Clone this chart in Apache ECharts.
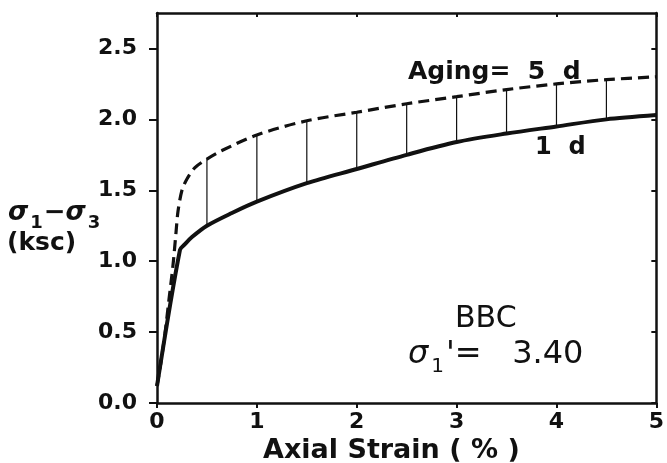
<!DOCTYPE html>
<html>
<head>
<meta charset="utf-8">
<script src="https://cdn.jsdelivr.net/npm/echarts@6/dist/echarts.min.js"></script>
<style>
  html, body { margin: 0; padding: 0; background: #fff; }
  #chart { width: 667px; height: 463px; }
</style>
</head>
<body>
<div id="chart"></div>
<script>
// 1 day curve (solid)
const oneDayStrain = [0, 0.23, 0.28, 0.35, 0.5, 0.75, 1, 1.5, 2, 2.5, 3, 3.5, 4, 4.5, 5];
const oneDayStress = [0.12, 1.08, 1.12, 1.17, 1.25, 1.34, 1.42, 1.55, 1.65, 1.75, 1.84, 1.90, 1.95, 2.00, 2.03];

// 5 day curve (dashed)
const fiveDayStrain = [0, 0.04, 0.08, 0.12, 0.16, 0.19, 0.21, 0.25, 0.3, 0.38, 0.5, 0.65, 1, 1.5, 2, 2.5, 3, 3.5, 4, 4.5, 5];
const fiveDayStress = [0.12, 0.29, 0.49, 0.73, 0.97, 1.2, 1.35, 1.5, 1.58, 1.66, 1.72, 1.78, 1.89, 1.99, 2.05, 2.11, 2.16, 2.21, 2.25, 2.28, 2.30];

// vertical connectors between the two curves
const connectorStrain = [0.5, 1, 1.5, 2, 2.5, 3, 3.5, 4, 4.5];
const connectorLow = [1.25, 1.42, 1.55, 1.65, 1.75, 1.84, 1.90, 1.95, 2.00];
const connectorHigh = [1.72, 1.89, 1.99, 2.05, 2.11, 2.16, 2.21, 2.25, 2.28];

const xTicks = [0, 1, 2, 3, 4, 5];
const yTicks = [0, 0.5, 1, 1.5, 2, 2.5];

const FONT = 'DejaVu Sans';
const INK = '#111';

const chart = echarts.init(document.getElementById('chart'), null, { renderer: 'canvas' });

const zip = (xs, ys) => xs.map((x, i) => [x, ys[i]]);

const frameAxis = (extra) => Object.assign({
  type: 'value',
  axisLine: { show: true, onZero: false, lineStyle: { color: INK, width: 2.5 } },
  axisLabel: { show: false },
  splitLine: { show: false }
}, extra);

const option = {
  backgroundColor: '#fff',
  animation: false,
  grid: { left: 157, right: 9, top: 13, bottom: 60 },
  xAxis: [
    frameAxis({
      min: 0, max: 5, position: 'bottom',
      axisTick: { show: true, length: 5, customValues: xTicks, lineStyle: { color: INK, width: 2 } },
      axisLabel: { show: true, customValues: xTicks, color: INK, fontFamily: FONT, fontWeight: 'bold', fontSize: 22, margin: 8 }
    }),
    frameAxis({
      min: 0, max: 5, position: 'top',
      axisTick: { show: true, inside: true, length: 4, customValues: xTicks, lineStyle: { color: INK, width: 2 } }
    })
  ],
  yAxis: [
    frameAxis({
      min: 0, max: 2.75, position: 'left',
      axisTick: { show: true, length: 8, customValues: yTicks, lineStyle: { color: INK, width: 2 } },
      axisLabel: {
        show: true, customValues: yTicks, color: INK, fontFamily: FONT, fontWeight: 'bold', fontSize: 22, margin: 20,
        formatter: (v) => v.toFixed(1)
      }
    }),
    frameAxis({
      min: 0, max: 2.75, position: 'right',
      axisTick: { show: true, inside: true, length: 5, customValues: yTicks, lineStyle: { color: INK, width: 2 } }
    })
  ],
  series: [
    {
      name: '5 d', type: 'line', data: zip(fiveDayStrain, fiveDayStress),
      showSymbol: false, smooth: 0.3,
      lineStyle: { color: INK, width: 3.2, type: [11, 6] }
    },
    {
      name: '1 d', type: 'line', data: zip(oneDayStrain, oneDayStress),
      showSymbol: false, smooth: 0.3,
      lineStyle: { color: INK, width: 4 }
    },
    {
      name: 'connectors', type: 'custom',
      data: connectorStrain.map((x, i) => [x, connectorLow[i], connectorHigh[i]]),
      renderItem: (params, api) => {
        const p0 = api.coord([api.value(0), api.value(1)]);
        const p1 = api.coord([api.value(0), api.value(2)]);
        return {
          type: 'line',
          shape: { x1: p0[0], y1: p0[1], x2: p1[0], y2: p1[1] },
          style: { stroke: INK, lineWidth: 1.2 }
        };
      }
    }
  ],
  graphic: [
    {
      type: 'text', left: 8, top: 200,
      style: {
        text: '{s|σ}{sub|1}{b|−}{s|σ}{sub|3}', fill: INK,
        rich: {
          s: { fontFamily: FONT, fontSize: 26, fontWeight: 'bold', fontStyle: 'italic', fill: INK, lineHeight: 32, verticalAlign: 'top' },
          b: { fontFamily: FONT, fontSize: 26, fontWeight: 'bold', fill: INK, lineHeight: 32, verticalAlign: 'top' },
          sub: { fontFamily: FONT, fontSize: 18, fontWeight: 'bold', fill: INK, verticalAlign: 'bottom', padding: [0, 1, 0, 2] }
        }
      }
    },
    {
      type: 'text', left: 7, top: 231,
      style: { text: '(ksc)', fill: INK, font: 'bold 25px "DejaVu Sans"' }
    },
    {
      type: 'text', left: 263, top: 437,
      style: { text: 'Axial Strain ( % )', fill: INK, font: 'bold 27px "DejaVu Sans"' }
    },
    {
      type: 'text', left: 408, top: 60,
      style: { text: 'Aging=  5  d', fill: INK, font: 'bold 25px "DejaVu Sans"' }
    },
    {
      type: 'text', left: 535, top: 136,
      style: { text: '1  d', fill: INK, font: 'bold 24px "DejaVu Sans"' }
    },
    {
      type: 'text', left: 455, top: 304,
      style: { text: 'BBC', fill: INK, font: '30px "DejaVu Sans"' }
    },
    {
      type: 'text', left: 408, top: 339,
      style: {
        text: "{s|σ}{sub|1}{n|'=   3.40}", fill: INK,
        rich: {
          s: { fontFamily: FONT, fontSize: 32, fontStyle: 'italic', fill: INK, lineHeight: 38, verticalAlign: 'top' },
          sub: { fontFamily: FONT, fontSize: 20, fill: INK, verticalAlign: 'bottom', padding: [0, 2, 0, 3] },
          n: { fontFamily: FONT, fontSize: 32, fill: INK, lineHeight: 38, verticalAlign: 'top' }
        }
      }
    }
  ]
};

chart.setOption(option);
</script>
</body>
</html>
